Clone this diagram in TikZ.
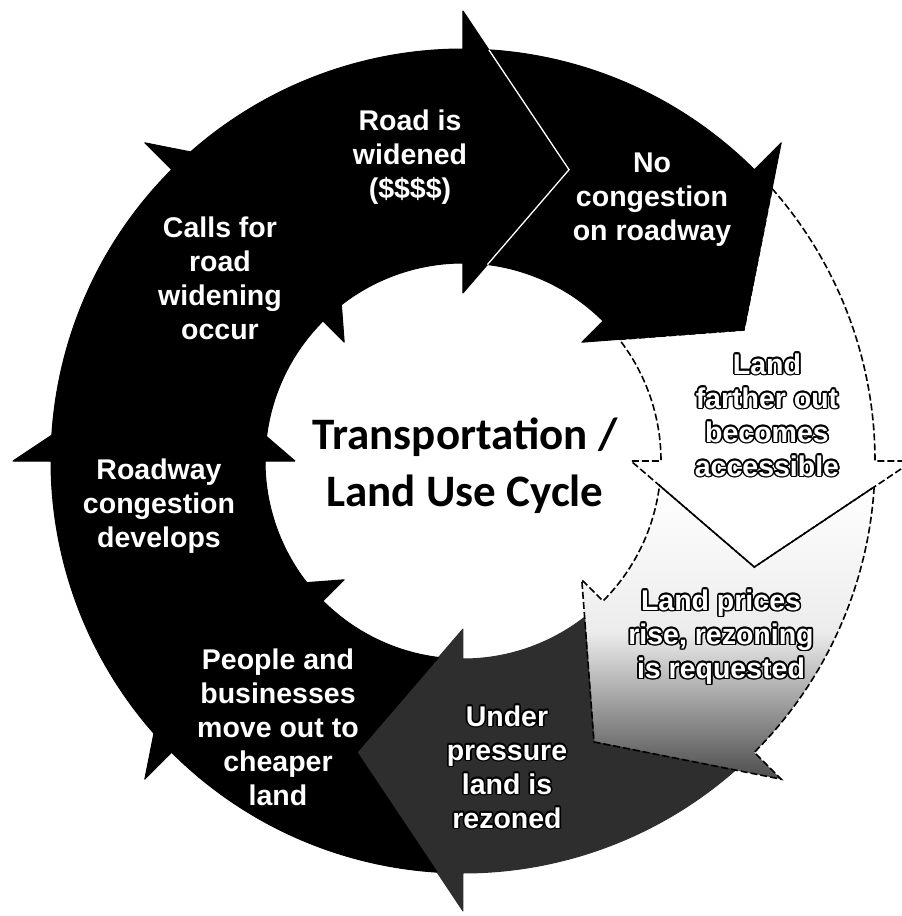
\documentclass[tikz,border=0pt]{standalone}
\usepackage{fontspec}
\setmainfont{Liberation Sans}
\newfontfamily\ctrfont{Carlito}
\usetikzlibrary{calc}
\tikzset{
  blkarrow/.style={fill=black, draw=black, line width=1pt, line join=round},
  lightarrow/.style={fill=white},
  prarrow/.style={top color=white, bottom color=black!70, middle color=gray!15},
  darkarrow/.style={fill=black!82, draw=black!82, line width=1pt, line join=round},
  dashline/.style={draw=black, line width=1.6pt, dash pattern=on 7pt off 3pt},
  sepline/.style={draw=white, line width=1.3pt},
  ringtxt/.style={font=\bfseries\fontsize{28.5}{34}\selectfont, align=center, inner sep=0pt, text=white},
  ctrtxt/.style={font=\ctrfont\bfseries\fontsize{45}{57}\selectfont, align=center, inner sep=0pt, text=black},
}
% arrow with head barb at angle #1, previous head barb at #1+45
\newcommand\cycpath[1]{(#1+41.4:412pt) arc[start angle=#1+41.4, end angle=#1, radius=412pt]
  -- (#1:450pt) -- (#1-20:310pt) -- (#1:168pt) -- (#1:198pt)
  arc[start angle=#1, end angle=#1+37.9, radius=198pt]
  -- (#1+25:310pt) -- cycle}
\newcommand\cycarrow[2]{\path[#2] \cycpath{#1};}
% white text with black outline
\newcommand\otext[3]{%
  \foreach \a in {0,30,...,330} {\node[ringtxt, text=black] at ($(#1)+(\a:1.6pt)$) {#3};}
  \node[ringtxt] (#2) at (#1) {#3};}
\begin{document}
\begin{tikzpicture}[x=1pt,y=1pt]
\useasboundingbox (-463,-455) rectangle (439,461);
\clip (-463,-455) rectangle (439,461);
\fill[white] (-463,-455) rectangle (439,461);
% arrows
\cycarrow{0}{lightarrow}
\cycarrow{-45}{prarrow}
\cycarrow{-90}{darkarrow}
\cycarrow{180}{blkarrow}
\cycarrow{135}{blkarrow}
\cycarrow{90}{blkarrow}
\cycarrow{45}{blkarrow}
\cycarrow{-135}{blkarrow}
\cycarrow{-45}{dashline}
\cycarrow{0}{dashline}
\draw[sepline] (86.4:412pt) -- (70:310pt) -- (82.9:198pt);
% texts
\coordinate (pRoad) at (-53,304);
\coordinate (pNoc) at (189,261);
\coordinate (pFar) at (304,46);
\coordinate (pPri) at (258,-176);
\coordinate (pUnd) at (44,-306);
\node[ringtxt] (road) at (pRoad) {Road is\\widened\\(\$\$\$\$)};
\node[ringtxt] (noc) at (pNoc) {No\\congestion\\on roadway};
\otext{pFar}{far}{Land\\farther out\\becomes\\accessible}
\otext{pPri}{pri}{Land prices\\rise, rezoning\\is requested}
\otext{pUnd}{und}{Under\\pressure\\land is\\rezoned}
\node[ringtxt] (peo) at (-185,-266) {People and\\businesses\\move out to\\cheaper\\land};
\node[ringtxt] (rdw) at (-304,-45) {Roadway\\congestion\\develops};
\node[ringtxt] (cal) at (-243,183) {Calls for\\road\\widening\\occur};
\node[ctrtxt] (ctr) at (2,-5) {Transportation /\\Land Use Cycle};
\end{tikzpicture}
\end{document}
